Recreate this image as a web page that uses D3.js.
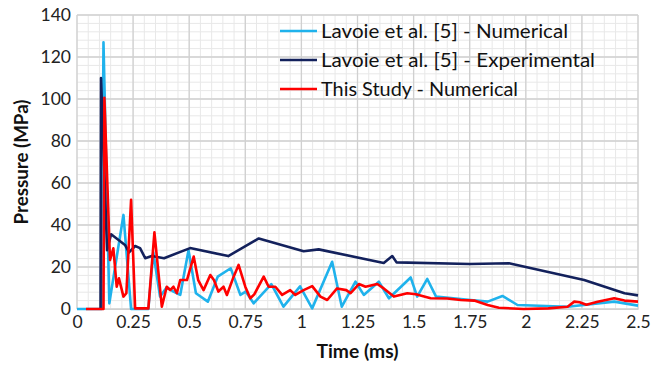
<!DOCTYPE html>
<html>
<head>
<meta charset="utf-8">
<script src="https://cdn.jsdelivr.net/npm/d3@7"></script>
<style>
  body { margin: 0; background: #fff; }
  svg { display: block; font-family: Lato, "Liberation Sans", sans-serif; }
</style>
</head>
<body>
<svg id="chart" width="666" height="367"></svg>
<script>
// Series: [time (ms), pressure (MPa)]
const lavoieNumerical = [
  [0, 0], [0.11, 0], [0.118, 127], [0.144, 2.7], [0.207, 44.8], [0.241, 0],
  [0.318, 0], [0.34, 27], [0.37, 5.9], [0.40, 10.3], [0.43, 8.3], [0.46, 6.7],
  [0.497, 28], [0.53, 7.5], [0.583, 3.5], [0.627, 15.4], [0.685, 19.4],
  [0.728, 6.7], [0.752, 8.3], [0.787, 2.7], [0.866, 11.8], [0.92, 1.1],
  [0.994, 10.8], [1.048, 0.3], [1.137, 22.5], [1.18, 1.1], [1.241, 13],
  [1.278, 6.7], [1.345, 13], [1.39, 5.1], [1.487, 15], [1.516, 5.9],
  [1.561, 14.3], [1.6, 5.9], [1.754, 4.3], [1.83, 3.5], [1.896, 6.2],
  [1.963, 1.9], [2.186, 1.1], [2.394, 3.5], [2.5, 1.6]
];

const lavoieExperimental = [
  [0.105, 0], [0.107, 110], [0.134, 28], [0.152, 35.6], [0.214, 30.5],
  [0.232, 27], [0.259, 30], [0.281, 29], [0.304, 24.2], [0.333, 25.2],
  [0.388, 24.2], [0.504, 29], [0.674, 25.2], [0.81, 33.6], [1.01, 27.5],
  [1.077, 28.4], [1.367, 21.9], [1.405, 25.2], [1.424, 22.2], [1.75, 21.4],
  [1.925, 21.8], [2.26, 13.8], [2.44, 7.5], [2.5, 6.5]
];

const thisStudy = [
  [0.04, 0], [0.118, 0], [0.122, 100.6], [0.147, 23.3], [0.162, 28.9],
  [0.177, 10.6], [0.187, 14.6], [0.207, 5.9], [0.22, 7.5], [0.241, 52],
  [0.259, 0.3], [0.318, 0.3], [0.345, 36.5], [0.378, 1.1], [0.40, 10.6],
  [0.415, 9], [0.43, 10.6], [0.445, 7.5], [0.46, 13.8], [0.49, 13.8],
  [0.52, 25], [0.54, 13.8], [0.564, 9], [0.594, 16.2], [0.61, 13.8],
  [0.63, 8.3], [0.653, 10.6], [0.668, 6.7], [0.698, 15.4], [0.72, 21],
  [0.75, 10.6], [0.772, 5.1], [0.79, 7], [0.832, 15.4], [0.854, 10.6],
  [0.884, 10.6], [0.914, 6.7], [0.95, 9], [0.973, 6.7], [1.01, 9],
  [1.048, 10.9], [1.085, 5.9], [1.115, 4.3], [1.159, 9.8], [1.2, 9],
  [1.219, 7.5], [1.256, 11.9], [1.286, 10.6], [1.338, 11.9], [1.367, 9.8],
  [1.412, 5.9], [1.472, 7.5], [1.51, 7], [1.576, 5.1], [1.65, 5],
  [1.71, 4.3], [1.77, 4], [1.83, 1.9], [1.88, 0.6], [1.99, 0], [2.1, 0.3],
  [2.186, 1.1], [2.216, 3.5], [2.24, 3.2], [2.27, 2], [2.32, 3.5],
  [2.394, 5.1], [2.44, 4], [2.5, 3.5]
];

const seriesNames = [
  'Lavoie et al. [5] - Numerical',
  'Lavoie et al. [5] - Experimental',
  'This Study - Numerical'
];
const seriesColors = ['#1fb2ec', '#13215c', '#ff0000'];
const legendWidths = [247, 274, 197];

const xTicks = [0, 0.25, 0.5, 0.75, 1, 1.25, 1.5, 1.75, 2, 2.25, 2.5];
const xTickLabels = ['0', '0.25', '0.5', '0.75', '1', '1.25', '1.5', '1.75', '2', '2.25', '2.5'];
const yTicks = [0, 20, 40, 60, 80, 100, 120, 140];

const width = 666;
const height = 367;
const margin = { top: 15, right: 28, bottom: 58, left: 77 };

const svg = d3.select('#chart');

const x = d3.scaleLinear().domain([0, 2.5]).range([margin.left, width - margin.right]);
const y = d3.scaleLinear().domain([0, 140]).range([height - margin.bottom, margin.top]);

// minor grid
const grid = svg.append('g');
grid.selectAll('.vminor')
  .data(d3.range(0, 2.5001, 0.05))
  .enter().append('line')
  .attr('x1', d => x(d)).attr('x2', d => x(d))
  .attr('y1', y(0)).attr('y2', y(140))
  .attr('stroke', '#e8e8e8').attr('stroke-width', 1);
grid.selectAll('.hminor')
  .data(d3.range(0, 140.001, 4))
  .enter().append('line')
  .attr('x1', x(0)).attr('x2', x(2.5))
  .attr('y1', d => y(d)).attr('y2', d => y(d))
  .attr('stroke', '#e8e8e8').attr('stroke-width', 1);

// major grid
grid.selectAll('.vmajor')
  .data(xTicks)
  .enter().append('line')
  .attr('x1', d => x(d)).attr('x2', d => x(d))
  .attr('y1', y(0)).attr('y2', y(140))
  .attr('stroke', '#d0d0d0').attr('stroke-width', 1.3);
grid.selectAll('.hmajor')
  .data(yTicks)
  .enter().append('line')
  .attr('x1', x(0)).attr('x2', x(2.5))
  .attr('y1', d => y(d)).attr('y2', d => y(d))
  .attr('stroke', '#d0d0d0').attr('stroke-width', 1.3);

// axes (labels only)
const xAxis = svg.append('g')
  .attr('transform', `translate(0,${y(0)})`)
  .call(d3.axisBottom(x).tickValues(xTicks).tickSize(0).tickPadding(7)
    .tickFormat((d, i) => xTickLabels[i]));
xAxis.select('.domain').attr('stroke', '#d0d0d0');
xAxis.selectAll('text').attr('font-size', 17.5).attr('fill', '#222').style('font-family', 'Lato, sans-serif');

const yAxis = svg.append('g')
  .attr('transform', `translate(${x(0)},0)`)
  .call(d3.axisLeft(y).tickValues(yTicks).tickSize(0).tickPadding(6));
yAxis.select('.domain').remove();
yAxis.selectAll('text').attr('font-size', 17.5).attr('fill', '#222').style('font-family', 'Lato, sans-serif');

// lines
const line = d3.line().x(d => x(d[0])).y(d => y(d[1]));
const allSeries = [lavoieNumerical, lavoieExperimental, thisStudy];
svg.append('g')
  .selectAll('path')
  .data(allSeries)
  .enter().append('path')
  .attr('d', line)
  .attr('fill', 'none')
  .attr('stroke', (d, i) => seriesColors[i])
  .attr('stroke-width', 2.6)
  .attr('stroke-linejoin', 'round');

// axis titles
svg.append('text')
  .attr('transform', `translate(28,${(y(0) + y(140)) / 2}) rotate(-90)`)
  .attr('text-anchor', 'middle')
  .attr('font-size', 19).attr('font-weight', 'bold').attr('fill', '#111')
  .attr('textLength', 125).attr('lengthAdjust', 'spacingAndGlyphs')
  .text('Pressure (MPa)');
svg.append('text')
  .attr('x', (x(0) + x(2.5)) / 2).attr('y', 358)
  .attr('text-anchor', 'middle')
  .attr('font-size', 19).attr('font-weight', 'bold').attr('fill', '#111')
  .attr('textLength', 82).attr('lengthAdjust', 'spacingAndGlyphs')
  .text('Time (ms)');

// legend
const legend = svg.append('g').attr('transform', 'translate(280,31)');
const rows = legend.selectAll('g')
  .data(seriesNames)
  .enter().append('g')
  .attr('transform', (d, i) => `translate(0,${i * 29})`);
rows.append('line')
  .attr('x1', 0).attr('x2', 37).attr('y1', 0).attr('y2', 0)
  .attr('stroke', (d, i) => seriesColors[i]).attr('stroke-width', 2.6);
rows.append('text')
  .attr('x', 41).attr('y', 7)
  .attr('font-size', 19.5).attr('fill', '#111')
  .attr('textLength', (d, i) => legendWidths[i]).attr('lengthAdjust', 'spacingAndGlyphs')
  .text(d => d);
</script>
</body>
</html>
